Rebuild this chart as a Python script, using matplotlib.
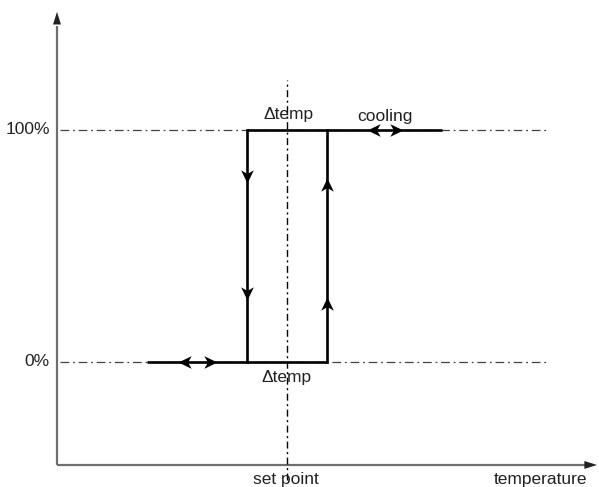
import matplotlib
matplotlib.use("Agg")
from matplotlib import pyplot as plt
from matplotlib.path import Path

plt.rcParams['font.family'] = ['Liberation Sans', 'DejaVu Sans']

# temperature in units of half the band, 0 = set point; output in percent
band_left = -1.0
band_right = 1.0
levels = [0, 100]
level_labels = ['0%', '100%']

# hysteresis path: heating branch (bottom) and cooling branch (top)
bottom_x = [-3.5, band_right]
top_x = [band_left, 3.875]

# direction arrows (tip positions)
top_arrows = [(2.0, 100, 'left'), (2.9, 100, 'right')]
bottom_arrows = [(-2.725, 0, 'left'), (-1.75, 0, 'right')]
down_arrows = [(band_left, 77.2), (band_left, 26.7)]
up_arrows = [(band_right, 79.3), (band_right, 28.0)]

x_axis_start = -5.75
x_axis_end = 7.75
y_axis_bottom = -44.4
y_axis_top = 150.9
guide_x = [-5.675, 6.525]
setpoint_y = [-50.9, 121.6]


def head(direction):
    # notched arrow head with the tip at the origin
    pts = [(0, 0), (-1, 0.48), (-0.72, 0), (-1, -0.48), (0, 0)]
    if direction == 'left':
        pts = [(-x, y) for x, y in pts]
    elif direction == 'up':
        pts = [(y, x) for x, y in pts]
    elif direction == 'down':
        pts = [(y, -x) for x, y in pts]
    codes = [Path.MOVETO, Path.LINETO, Path.LINETO, Path.LINETO, Path.CLOSEPOLY]
    return Path(pts, codes)


def arrow(ax, tip, tail, color='black', scale=13):
    ax.annotate('', xy=tip, xytext=tail,
                arrowprops=dict(arrowstyle='-|>,head_length=0.7,head_width=0.22',
                                color=color, lw=0, mutation_scale=scale,
                                shrinkA=0, shrinkB=0))


def main():
    fig = plt.figure(figsize=(5.99, 4.87), dpi=100)
    ax = fig.add_axes([0, 0, 1, 1])
    ax.set_xlim(-7.175, 7.8)
    ax.set_ylim(-53.9, 156.0)
    ax.axis('off')

    # axes with arrows
    axis_col = '#6e6e6e'
    ax.plot([x_axis_start, x_axis_end - 0.3], [y_axis_bottom, y_axis_bottom],
            color=axis_col, lw=1.6, solid_capstyle='butt')
    ax.plot([x_axis_start, x_axis_start], [y_axis_bottom, y_axis_top - 6],
            color=axis_col, lw=1.6, solid_capstyle='butt')
    arrow(ax, (x_axis_end, y_axis_bottom), (x_axis_end - 0.4, y_axis_bottom), color='#222222')
    arrow(ax, (x_axis_start, y_axis_top), (x_axis_start, y_axis_top - 10), color='#222222')

    # guide lines
    for lv in levels:
        ax.plot(guide_x, [lv, lv], color='#444444', lw=0.9,
                dashes=(7, 3, 1.5, 3))
    ax.plot([0, 0], setpoint_y, color='black', lw=1.0, dashes=(5, 2.5, 1.5, 2.5))

    # hysteresis loop
    ax.plot(bottom_x, [0, 0], color='black', lw=1.9, solid_capstyle='butt')
    ax.plot(top_x, [100, 100], color='black', lw=1.9, solid_capstyle='butt')
    ax.plot([band_left, band_left], [0, 100], color='black', lw=1.9)
    ax.plot([band_right, band_right], [0, 100], color='black', lw=1.9)

    ms = 19
    for x, y, d in top_arrows + bottom_arrows:
        ax.plot([x], [y], marker=head(d), ms=ms, color='black', mew=0)
    for x, y in down_arrows:
        ax.plot([x], [y], marker=head('down'), ms=ms, color='black', mew=0)
    for x, y in up_arrows:
        ax.plot([x], [y], marker=head('up'), ms=ms, color='black', mew=0)

    # labels
    tcol = '#222222'
    for lv, lab in zip(levels, level_labels):
        ax.text(x_axis_start - 0.18, lv, lab, ha='right', va='center',
                fontsize=12.5, color=tcol)
    ax.text(0.05, 103.5, '\u0394temp', ha='center', va='bottom', fontsize=12.5, color=tcol)
    ax.text(2.45, 102.5, 'cooling', ha='center', va='bottom', fontsize=12.5, color=tcol)
    ax.text(0.0, -3.5, '\u0394temp', ha='center', va='top', fontsize=12.5, color=tcol)
    ax.text(-0.02, -47.5, 'set point', ha='center', va='top', fontsize=12.5, color=tcol)
    ax.text(6.33, -47.5, 'temperature', ha='center', va='top', fontsize=12.5, color=tcol)

    fig.savefig('out.png', dpi=100)


if __name__ == "__main__":
    main()
